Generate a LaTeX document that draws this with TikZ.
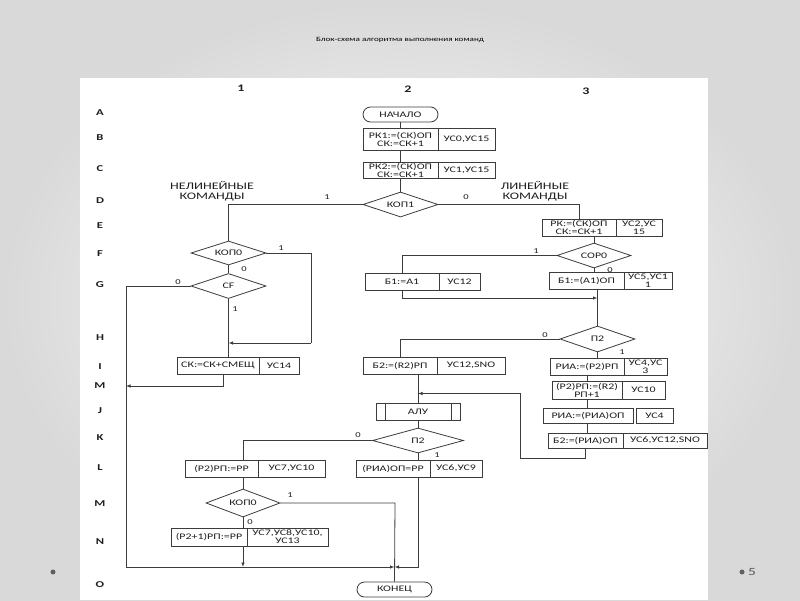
\documentclass[tikz,border=0pt]{standalone}
\usepackage{fontspec}
\setmainfont{Carlito}[FakeStretch=1.4]
\usetikzlibrary{shapes.geometric,arrows.meta}
\definecolor{ln}{HTML}{3C3C3C}
\definecolor{tx}{HTML}{1E1E1E}
\tikzset{
  cell/.style={draw=ln, line width=0.8pt, fill=white, inner sep=0pt, align=center,
    font=\fontsize{8.5}{8}\selectfont, text=tx},
  dia/.style={diamond, aspect=3, draw=ln, line width=0.8pt, fill=white, inner sep=0pt,
    font=\fontsize{8.5}{8}\selectfont, text=tx},
  term/.style={draw=ln, line width=0.8pt, fill=white, rounded corners=7.5pt, inner sep=0pt,
    minimum width=75pt, minimum height=15pt, font=\fontsize{8.5}{8}\selectfont, text=tx},
  con/.style={draw=ln, line width=0.8pt},
  arr/.style={con, -{Latex[length=4.5pt,width=3.5pt]}},
  lab/.style={font=\fontsize{7.5}{8}\selectfont, text=tx, inner sep=0pt},
  rowlab/.style={font=\bfseries\fontsize{9}{9}\selectfont, text=tx, inner sep=0pt},
  grp/.style={font=\fontsize{10}{10.5}\selectfont, text=tx, align=center, inner sep=0pt},
}
\begin{document}
\begin{tikzpicture}[x=1pt,y=-1pt]
\shade[inner color=white, outer color=gray!30] (0,0) rectangle (800,600);
\useasboundingbox (0,0) rectangle (800,600);
\fill[white] (80,78) rectangle (708,600);
\node[font=\fontsize{6.5}{7}\selectfont, text=black] (title) at (400,40) {Блок-схема алгоритма выполнения команд};
\fill[gray!75!black] (53,572) circle (2.5pt);
\fill[gray!75!black] (742,572) circle (2.5pt);
\node[font=\fontsize{11}{12}\selectfont, text=gray!70!black, inner sep=0pt] (pg) at (752,572) {5};

% column headers
\node[rowlab, font=\bfseries\fontsize{10}{10}\selectfont] (h1) at (241,88) {1};
\node[rowlab, font=\bfseries\fontsize{10}{10}\selectfont] (h2) at (408,89) {2};
\node[rowlab, font=\bfseries\fontsize{10}{10}\selectfont] (h3) at (586,91) {3};
% row labels
\foreach \t/\y [count=\i] in {A/113,B/138,C/169,D/201,E/226,F/254,G/285,H/338,I/367,M/386,J/411,K/438,L/468,M/504,N/542,O/585}
  \node[rowlab] (row\i) at (100,\y) {\t};

% group labels
\node[grp] (nonlin) at (212,191) {НЕЛИНЕЙНЫЕ\\КОМАНДЫ};
\node[grp] (lin) at (535,191) {ЛИНЕЙНЫЕ\\КОМАНДЫ};

% column 2 top
\node[term] (start) at (400.5,114.5) {НАЧАЛО};
\node[cell, minimum width=75pt, minimum height=22pt] (rk1a) at (400.5,139) {РК1:=(СК)ОП\\СК:=СК+1};
\node[cell, minimum width=57pt, minimum height=22pt] (rk1b) at (466.5,139) {УС0,УС15};
\node[cell, minimum width=75pt, minimum height=16pt] (rk2a) at (400.5,170) {РК2:=(СК)ОП\\СК:=СК+1};
\node[cell, minimum width=57pt, minimum height=16pt] (rk2b) at (466.5,170) {УС1,УС15};
\node[dia, minimum width=75pt, minimum height=25pt] (kop1) at (400.5,204.5) {КОП1};

% column 3
\node[cell, minimum width=74pt, minimum height=17pt] (rka) at (579,227.5) {РК:=(СК)ОП\\СК:=СК+1};
\node[cell, minimum width=46pt, minimum height=17pt] (rkb) at (639,227.5) {УС2,УС\\15};
\node[dia, minimum width=74pt, minimum height=25pt] (sor0) at (594,255.5) {СОР0};
\node[cell, minimum width=74pt, minimum height=17pt] (b1a) at (402,281.5) {Б1:=А1};
\node[cell, minimum width=41pt, minimum height=17pt] (b1b) at (459.5,281.5) {УС12};
\node[cell, minimum width=75pt, minimum height=17pt] (b1c) at (586.5,280.5) {Б1:=(А1)ОП};
\node[cell, minimum width=48pt, minimum height=17pt] (b1d) at (648,280.5) {УС5,УС1\\1};
\node[dia, minimum width=75pt, minimum height=26pt] (p2a) at (597.5,339) {П2};
\node[cell, minimum width=74pt, minimum height=17pt] (b2a) at (400,365.5) {Б2:=(R2)РП};
\node[cell, minimum width=68pt, minimum height=17pt] (b2b) at (471,365.5) {УС12,SNO};
\node[cell, minimum width=74pt, minimum height=17pt] (ria1a) at (587,366.5) {РИА:=(Р2)РП};
\node[cell, minimum width=43pt, minimum height=17pt] (ria1b) at (645.5,366.5) {УС4,УС\\3};
\node[cell, minimum width=70pt, minimum height=18pt] (r2a) at (587,390) {(Р2)РП:=(R2)\\РП+1};
\node[cell, minimum width=43pt, minimum height=18pt] (r2b) at (643.5,390) {УС10};
\node[cell, minimum width=90pt, minimum height=15pt] (ria2a) at (588,415.5) {РИА:=(РИА)ОП};
\node[cell, minimum width=37pt, minimum height=15pt] (ria2b) at (654.5,415.5) {УС4};
\node[cell, minimum width=75pt, minimum height=15pt] (b2c) at (585.5,440.5) {Б2:=(РИА)ОП};
\node[cell, minimum width=84pt, minimum height=15pt] (b2d) at (665,440.5) {УС6,УС12,SNO};

% ALU and lower part
\node[cell, minimum width=84pt, minimum height=17pt] (alu) at (418,411.5) {АЛУ};
\draw[con] ([xshift=10pt]alu.north west) -- ([xshift=10pt]alu.south west);
\draw[con] ([xshift=-9pt]alu.north east) -- ([xshift=-9pt]alu.south east);
\node[dia, minimum width=91pt, minimum height=25pt] (p2b) at (418,440.5) {П2};
\node[cell, minimum width=74pt, minimum height=17pt] (riaopa) at (393,468.5) {(РИА)ОП=РР};
\node[cell, minimum width=52pt, minimum height=17pt] (riaopb) at (456,468.5) {УС6,УС9};
\node[cell, minimum width=73pt, minimum height=17pt] (r2ppa) at (221.5,468.5) {(Р2)РП:=РР};
\node[cell, minimum width=67pt, minimum height=17pt] (r2ppb) at (291.5,468.5) {УС7,УС10};
\node[dia, minimum width=74pt, minimum height=28pt] (kop0b) at (243,503) {КОП0};
\node[cell, minimum width=76pt, minimum height=18pt] (r21a) at (209,537) {(Р2+1)РП:=РР};
\node[cell, minimum width=81pt, minimum height=18pt] (r21b) at (287.5,537) {УС7,УС8,УС10,\\УС13};
\node[term] (konec) at (394.5,589.5) {КОНЕЦ};

% column 1
\node[dia, minimum width=75pt, minimum height=24pt] (kop0a) at (228.5,253) {КОП0};
\node[dia, minimum width=75pt, minimum height=25pt] (cf) at (228.5,286) {CF};
\node[cell, minimum width=82pt, minimum height=17pt] (ska) at (218,365.5) {СК:=СК+СМЕЩ};
\node[cell, minimum width=40pt, minimum height=17pt] (skb) at (279,365.5) {УС14};

% coordinates
\coordinate (j1) at (597.5,298);
\coordinate (lp1) at (520,458);
\coordinate (j2) at (418,393.5);
\coordinate (k1) at (243,440.5);
\coordinate (m1) at (243,567);
\coordinate (e1) at (395,503);
\coordinate (L1) at (126,286);
\coordinate (L2) at (126,567);
\coordinate (q1) at (418,567);
\coordinate (n1) at (311,253);
\coordinate (n2) at (311,343);
\coordinate (s1) at (223,386);
\coordinate (x587) at (587,0);

% connectors column 2
\draw[con] (start.south) -- (rk1a.north);
\draw[con] (rk1a.south) -- (rk2a.north);
\draw[con] (rk2a.south) -- (kop1.north);
\draw[con] (kop1.west) -| (kop0a.north);
\draw[con] (kop1.east) -| (rka.north);
\draw[con] (sor0.north |- rka.south) -- (sor0.north);
\draw[con] (sor0.west) -| (b1a.north);
\draw[con] (sor0.south) -- (sor0.south |- b1c.north);
\draw[con] (p2a.north |- b1c.south) -- (p2a.north);
\draw[arr] (b1a.south) |- (j1);
\draw[con] (p2a.west) -| (b2a.north);
\draw[con] (p2a.south) -- (p2a.south |- ria1a.north);
\draw[con] (x587 |- ria1a.south) -- (x587 |- r2a.north);
\draw[con] (x587 |- r2a.south) -- (x587 |- ria2a.north);
\draw[con] (x587 |- ria2a.south) -- (x587 |- b2c.north);
\draw[arr] (b2c.south) |- (lp1) |- (j2);
\draw[con] (alu.north |- b2a.south) -- (alu.north);
\draw[con] (alu.south) -- (p2b.north);
\draw[con] (p2b.west) -- (k1) -- (k1 |- r2ppa.north);
\draw[con] (k1 |- r2ppa.south) -- (kop0b.north);
\draw[con] (kop0b.south) -- (kop0b.south |- r21a.north);
\draw[arr] (kop0b.south |- r21a.south) -- (m1);
\draw[con] (kop0b.east) -- (e1) -- (konec.north);
\draw[con] (p2b.south) -- (p2b.south |- riaopa.north);
\draw[arr] (p2b.south |- riaopa.south) -- (q1) -- (konec.north |- q1);
% column 1
\draw[con] (kop0a.south) -- (cf.north);
\draw[con] (cf.west) -- (L1) -- (L2);
\draw[arr] (L2) -- (konec.north |- L2);
\draw[con] (kop0a.east) -- (n1) -- (n2);
\draw[arr] (n2) -- (n2 -| cf.south);
\draw[con] (cf.south) -- (cf.south |- ska.north);
\draw[arr] (s1 |- ska.south) -- (s1) -- (s1 -| L1);

% branch labels
\node[lab] (t1) at (327,197) {1};
\node[lab] (t2) at (466,197) {0};
\node[lab] (t3) at (281,248) {1};
\node[lab] (t4) at (244,269) {0};
\node[lab] (t5) at (178,282) {0};
\node[lab] (t6) at (235,309) {1};
\node[lab] (t7) at (536,251) {1};
\node[lab] (t8) at (610,270) {0};
\node[lab] (t9) at (545,335) {0};
\node[lab] (t10) at (622,352) {1};
\node[lab] (t11) at (358,435) {0};
\node[lab] (t12) at (437,455) {1};
\node[lab] (t13) at (290,495) {1};
\node[lab] (t14) at (250,522) {0};
\end{tikzpicture}
\end{document}
